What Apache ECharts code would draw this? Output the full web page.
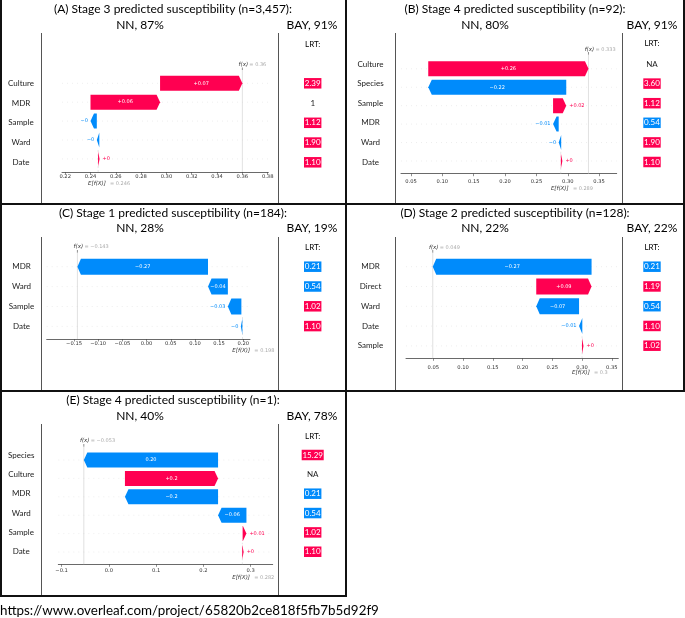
<!DOCTYPE html>
<html><head><meta charset="utf-8">
<script src="https://cdn.jsdelivr.net/npm/echarts@6/dist/echarts.min.js"></script>
<style>html,body{margin:0;padding:0;background:#fff}#c{width:685px;height:618px}</style>
</head><body><div id="c"></div>
<script>
// ================= DATA =================
const panelTitles = [
  "(A) Stage 3 predicted susceptibility (n=3,457):",
  "(B) Stage 4 predicted susceptibility (n=92):",
  "(C) Stage 1 predicted susceptibility (n=184):",
  "(D) Stage 2 predicted susceptibility (n=128):",
  "(E) Stage 4 predicted susceptibility (n=1):"
];
const nnLabels = ["NN, 87%", "NN, 80%", "NN, 28%", "NN, 22%", "NN, 40%"];
const bayLabels = ["BAY, 91%", "BAY, 91%", "BAY, 19%", "BAY, 22%", "BAY, 78%"];
const urlText = "https://www.overleaf.com/project/65820b2ce818f5fb7b5d92f9";

// Panel A
const featuresA = ["Culture", "MDR", "Sample", "Ward", "Date"];
const shapA = [0.065, 0.055, -0.005, -0.002, 0.001];
const shapTextA = ["+0.07", "+0.06", "\u22120", "\u22120", "+0"];
const lrtA = ["2.39", "1", "1.12", "1.90", "1.10"];
const baseA = 0.246, baseTextA = "0.246", fxTextA = "0.36";
const ticksA = [0.22, 0.24, 0.26, 0.28, 0.30, 0.32, 0.34, 0.36, 0.38];
const tickLabelsA = ["0.22", "0.24", "0.26", "0.28", "0.30", "0.32", "0.34", "0.36", "0.38"];

// Panel B
const featuresB = ["Culture", "Species", "Sample", "MDR", "Ward", "Date"];
const shapB = [0.2555, -0.22, 0.021, -0.009, -0.004, 0.0005];
const shapTextB = ["+0.26", "\u22120.22", "+0.02", "\u22120.01", "\u22120", "+0"];
const lrtB = ["NA", "3.60", "1.12", "0.54", "1.90", "1.10"];
const baseB = 0.289, baseTextB = "0.289", fxTextB = "0.333";
const ticksB = [0.05, 0.10, 0.15, 0.20, 0.25, 0.30, 0.35];
const tickLabelsB = ["0.05", "0.10", "0.15", "0.20", "0.25", "0.30", "0.35"];

// Panel C
const featuresC = ["MDR", "Ward", "Sample", "Date"];
const shapC = [-0.27, -0.041, -0.028, -0.002];
const shapTextC = ["\u22120.27", "\u22120.04", "\u22120.03", "\u22120"];
const lrtC = ["0.21", "0.54", "1.02", "1.10"];
const baseC = 0.198, baseTextC = "0.198", fxTextC = "\u22120.143";
const ticksC = [-0.15, -0.10, -0.05, 0.00, 0.05, 0.10, 0.15, 0.20];
const tickLabelsC = ["\u22120.15", "\u22120.10", "\u22120.05", "0.00", "0.05", "0.10", "0.15", "0.20"];

// Panel D
const featuresD = ["MDR", "Direct", "Ward", "Date", "Sample"];
const shapD = [-0.267, 0.093, -0.072, -0.0055, 0.0005];
const shapTextD = ["\u22120.27", "+0.09", "\u22120.07", "\u22120.01", "+0"];
const lrtD = ["0.21", "1.19", "0.54", "1.10", "1.02"];
const baseD = 0.3, baseTextD = "0.3", fxTextD = "0.049";
const ticksD = [0.05, 0.10, 0.15, 0.20, 0.25, 0.30, 0.35];
const tickLabelsD = ["0.05", "0.10", "0.15", "0.20", "0.25", "0.30", "0.35"];

// Panel E
const featuresE = ["Species", "Culture", "MDR", "Ward", "Sample", "Date"];
const shapE = [-0.284, 0.197, -0.197, -0.06, 0.008, 0.001];
const shapTextE = ["0.20", "+0.2", "\u22120.2", "\u22120.06", "+0.01", "+0"];
const lrtE = ["15.29", "NA", "0.21", "0.54", "1.02", "1.10"];
const baseE = 0.282, baseTextE = "0.282", fxTextE = "\u22120.053";
const ticksE = [-0.1, 0.0, 0.1, 0.2, 0.3];
const tickLabelsE = ["\u22120.1", "0.0", "0.1", "0.2", "0.3"];

// ================= LAYOUT / STYLE =================
const RED = '#ff0051', BLUE = '#008bfb';
const TF = 'Lato', MF = 'DejaVu Sans';
const layouts = [
  {x0:62, x1:268.3, xmin:0.2175, xmax:0.3805, gridTop:69.5, axisY:172, bar0Y:83.3, barSp:18.9, barH:15, lab0Y:83.3, labSp:19.75, tickMargin:2.5, fLabY:64.3, eLabY:183.5, labX:21, lrtX:312.7, titleX:173, titleY:9.5, nnX:140, nnY:25, bayX:312, lrtHeadY:44},
  {x0:401, x1:616.7, xmin:0.034, xmax:0.378, gridTop:54, axisY:173.7, bar0Y:68.8, barSp:18.44, barH:15, lab0Y:64, labSp:19.6, tickMargin:5.2, fLabY:49.5, eLabY:188.3, labX:370.5, lrtX:652, titleX:515, titleY:9.5, nnX:485, nnY:25, bayX:652, lrtHeadY:43.3},
  {x0:46.7, x1:250, xmin:-0.2065, xmax:0.2138, gridTop:252, axisY:339, bar0Y:266.7, barSp:19.9, barH:16, lab0Y:266.7, labSp:19.8, tickMargin:2.5, fLabY:247, eLabY:350.7, labX:21.5, lrtX:312.7, titleX:173, titleY:213, nnX:140, nnY:228, bayX:312, lrtHeadY:247.7},
  {x0:406, x1:618.3, xmin:0.004, xmax:0.361, gridTop:252, axisY:358.3, bar0Y:266.7, barSp:19.8, barH:16, lab0Y:266.7, labSp:19.75, tickMargin:6.9, fLabY:247.3, eLabY:373, labX:370.5, lrtX:652, titleX:515, titleY:213, nnX:485, nnY:228, bayX:652, lrtHeadY:247.7},
  {x0:58.3, x1:272.7, xmin:-0.107, xmax:0.3466, gridTop:446, axisY:564.3, bar0Y:460, barSp:18.4, barH:15, lab0Y:455, labSp:19.35, tickMargin:4.2, fLabY:441, eLabY:577.7, labX:21.2, lrtX:312.7, titleX:173, titleY:400, nnX:140, nnY:415.7, bayX:312, lrtHeadY:436}
];

const panels = [
  {feats:featuresA, shap:shapA, txt:shapTextA, lrt:lrtA, base:baseA, baseText:baseTextA, fxText:fxTextA, ticks:ticksA, tickLabels:tickLabelsA},
  {feats:featuresB, shap:shapB, txt:shapTextB, lrt:lrtB, base:baseB, baseText:baseTextB, fxText:fxTextB, ticks:ticksB, tickLabels:tickLabelsB},
  {feats:featuresC, shap:shapC, txt:shapTextC, lrt:lrtC, base:baseC, baseText:baseTextC, fxText:fxTextC, ticks:ticksC, tickLabels:tickLabelsC},
  {feats:featuresD, shap:shapD, txt:shapTextD, lrt:lrtD, base:baseD, baseText:baseTextD, fxText:fxTextD, ticks:ticksD, tickLabels:tickLabelsD},
  {feats:featuresE, shap:shapE, txt:shapTextE, lrt:lrtE, base:baseE, baseText:baseTextE, fxText:fxTextE, ticks:ticksE, tickLabels:tickLabelsE}
];

// waterfall cumulative segments (bottom feature starts at base value)
panels.forEach(P => {
  const n = P.feats.length; let cur = P.base; P.segs = new Array(n);
  for (let i = n - 1; i >= 0; i--) { const s = cur, e = cur + P.shap[i]; P.segs[i] = [s, e]; cur = e; }
  P.fx = cur;
});
layouts.forEach(L => {
  L.yMin = (L.gridTop - L.bar0Y) / L.barSp;
  L.yMax = (L.axisY - L.bar0Y) / L.barSp;
});

const mctx = document.createElement('canvas').getContext('2d');
function measure(t, size) { mctx.font = size + 'px "' + MF + '"'; return mctx.measureText(t).width; }

const BAR_FS = 5, HEAD = 3.5, MINW = 1.5;

function txtStyle(o) {
  const s = Object.assign({fill:'#000', fontFamily:TF, fontSize:12, align:'center', verticalAlign:'middle'}, o);
  s.textAlign = s.align; s.textVerticalAlign = s.verticalAlign;
  return s;
}

const grids = [], xAxes = [], yAxes = [], series = [];
panels.forEach((P, k) => {
  const L = layouts[k];
  grids.push({left:L.x0, top:L.gridTop, width:L.x1 - L.x0, height:L.axisY - L.gridTop, containLabel:false, outerBoundsMode:'none'});
  yAxes.push({gridIndex:k, type:'value', inverse:true, min:L.yMin, max:L.yMax, show:false});
  xAxes.push({
    gridIndex:k, type:'value', min:L.xmin, max:L.xmax,
    axisLine:{show:true, onZero:false, lineStyle:{color:'#444', width:0.8}},
    axisTick:{show:true, customValues:P.ticks, length:2.5, lineStyle:{color:'#444', width:0.6}},
    axisLabel:{customValues:P.ticks, margin:L.tickMargin, fontSize:5.2, fontFamily:MF, color:'#333',
      formatter: v => { const i = P.ticks.findIndex(t => Math.abs(t - v) < 1e-9); return i >= 0 ? P.tickLabels[i] : ''; }},
    splitLine:{show:false}
  });
  // row guide lines
  series.push({
    type:'custom', coordinateSystem:'cartesian2d', xAxisIndex:k, yAxisIndex:k, clip:false, silent:true, z:1,
    data: P.feats.map((_, i) => [L.xmin, L.xmax, i]),
    renderItem(params, api) {
      const a = api.coord([api.value(0), api.value(2)]), b = api.coord([api.value(1), api.value(2)]);
      return {type:'line', shape:{x1:a[0], y1:a[1], x2:b[0], y2:b[1]}, style:{stroke:'#dddddd', lineWidth:0.5, lineDash:[1,4]}};
    }
  });
  // f(x) and E[f(X)] reference lines + labels
  series.push({
    type:'custom', coordinateSystem:'cartesian2d', xAxisIndex:k, yAxisIndex:k, clip:false, silent:true, z:2,
    data: [[P.fx, 0], [P.base, 1]],
    renderItem(params, api) {
      const v = api.value(0), kind = api.value(1);
      const top = api.coord([v, L.yMin]), bot = api.coord([v, L.yMax]);
      const x = top[0];
      if (kind === 0) {
        return {type:'group', children:[
          {type:'line', shape:{x1:x, y1:top[1], x2:x, y2:bot[1]}, style:{stroke:'#cccccc', lineWidth:0.6}},
          {type:'line', shape:{x1:x, y1:top[1] - 2, x2:x, y2:top[1] + 0.5}, style:{stroke:'#444', lineWidth:0.6}},
          {type:'text', style:txtStyle({text:'f(x)', x:x - 3.8, y:L.fLabY, fontFamily:MF, fontStyle:'italic', fontSize:5.5, fill:'#333', align:'left'})},
          {type:'text', style:txtStyle({text:'= ' + P.fxText, x:x + 7, y:L.fLabY, fontFamily:MF, fontSize:5, fill:'#aaaaaa', align:'left'})}
        ]};
      }
      const rowTop = api.coord([v, P.feats.length - 1.5]);
      return {type:'group', children:[
        {type:'line', shape:{x1:x, y1:bot[1], x2:x, y2:rowTop[1]}, style:{stroke:'#cccccc', lineWidth:0.5, lineDash:[2,2]}},
        {type:'text', style:txtStyle({text:'E[f(X)]', x:x - 10, y:L.eLabY, fontFamily:MF, fontStyle:'italic', fontSize:5.5, fill:'#333', align:'left'})},
        {type:'text', style:txtStyle({text:'= ' + P.baseText, x:x + 12, y:L.eLabY, fontFamily:MF, fontSize:5, fill:'#aaaaaa', align:'left'})}
      ]};
    }
  });
  // waterfall bars
  series.push({
    type:'custom', coordinateSystem:'cartesian2d', xAxisIndex:k, yAxisIndex:k, clip:false, silent:true, z:5,
    data: P.segs.map((s, i) => [s[0], s[1], i]),
    renderItem(params, api) {
      const i = params.dataIndex;
      const s = api.value(0), e = api.value(1), row = api.value(2);
      const a = api.coord([s, row]), b = api.coord([e, row]);
      const y = a[1], hh = L.barH / 2, dir = e >= s ? 1 : -1;
      const x0 = a[0]; let x1 = b[0];
      if (Math.abs(x1 - x0) < MINW) x1 = x0 + dir * MINW;
      const w = Math.abs(x1 - x0), hl = Math.min(w, HEAD);
      const color = dir > 0 ? RED : BLUE;
      const pts = [[x0, y - hh], [x1 - dir * hl, y - hh], [x1, y], [x1 - dir * hl, y + hh], [x0, y + hh]];
      const t = P.txt[i];
      const tw = measure(t, BAR_FS);
      let ts;
      if (tw < w) ts = txtStyle({text:t, x:(x0 + x1) / 2, y:y, fill:'#fff', fontFamily:MF, fontSize:BAR_FS});
      else if (dir > 0) ts = txtStyle({text:t, x:x1 + 3, y:y, fill:RED, fontFamily:MF, fontSize:BAR_FS, align:'left'});
      else ts = txtStyle({text:t, x:x1 - 2.5, y:y, fill:BLUE, fontFamily:MF, fontSize:BAR_FS, align:'right'});
      return {type:'group', children:[
        {type:'polygon', shape:{points:pts}, style:{fill:color}},
        {type:'text', style:ts}
      ]};
    }
  });
});

// ================= TABLE GRAPHICS =================
const g = [];
function T(x, y, text, o) { g.push({type:'text', x:x, y:y, silent:true, style:txtStyle(Object.assign({text:text}, o || {}))}); }
function Ln(x1, y1, x2, y2, w, c) { g.push({type:'line', silent:true, shape:{x1:x1, y1:y1, x2:x2, y2:y2}, style:{stroke:c, lineWidth:w}}); }

// thick outer / cell borders
const BC = '#111';
Ln(1, 0, 1, 597, 2, BC);
Ln(346, 0, 346, 597, 2, BC);
Ln(684, 0, 684, 392, 2, BC);
Ln(0, 204, 685, 204, 2, BC);
Ln(0, 391, 685, 391, 2, BC);
Ln(0, 596, 347, 596, 2, BC);
// thin inner column lines
const IC = '#555';
Ln(41.5, 33, 41.5, 203, 1, IC); Ln(278.5, 33, 278.5, 203, 1, IC);
Ln(395.5, 33, 395.5, 203, 1, IC); Ln(622.5, 33, 622.5, 203, 1, IC);
Ln(41.5, 237, 41.5, 390, 1, IC); Ln(278.5, 237, 278.5, 390, 1, IC);
Ln(395.5, 237, 395.5, 390, 1, IC); Ln(622.5, 237, 622.5, 390, 1, IC);
Ln(41.5, 424, 41.5, 595, 1, IC); Ln(278.5, 424, 278.5, 595, 1, IC);

panels.forEach((P, k) => {
  const L = layouts[k];
  T(L.titleX, L.titleY, panelTitles[k], {fontSize:12});
  T(L.nnX, L.nnY, nnLabels[k], {fontSize:12});
  T(L.bayX, L.nnY, bayLabels[k], {fontSize:12});
  T(L.lrtX, L.lrtHeadY, 'LRT:', {fontSize:8});
  P.feats.forEach((f, i) => T(L.labX, L.lab0Y + i * L.labSp, f, {fontSize:8, fill:'#222'}));
  P.lrt.forEach((v, i) => {
    const num = parseFloat(v);
    const y = L.lab0Y + i * L.labSp;
    if (isNaN(num) || num === 1) T(L.lrtX, y, v, {fontSize:8, fill:'#222'});
    else T(L.lrtX, y, v, {fontSize:8, fill:'#fff', backgroundColor: num > 1 ? RED : BLUE, padding:[1, 0.8, 0.5, 0.8], lineHeight:9});
  });
});
T(0, 610.5, urlText, {fontSize:13.4, align:'left'});

const chart = echarts.init(document.getElementById('c'), null, {renderer:'canvas', width:685, height:618});
chart.setOption({
  animation:false,
  backgroundColor:'#fff',
  grid: grids, xAxis: xAxes, yAxis: yAxes, series: series,
  graphic: {elements: g}
});
</script>
</body></html>
